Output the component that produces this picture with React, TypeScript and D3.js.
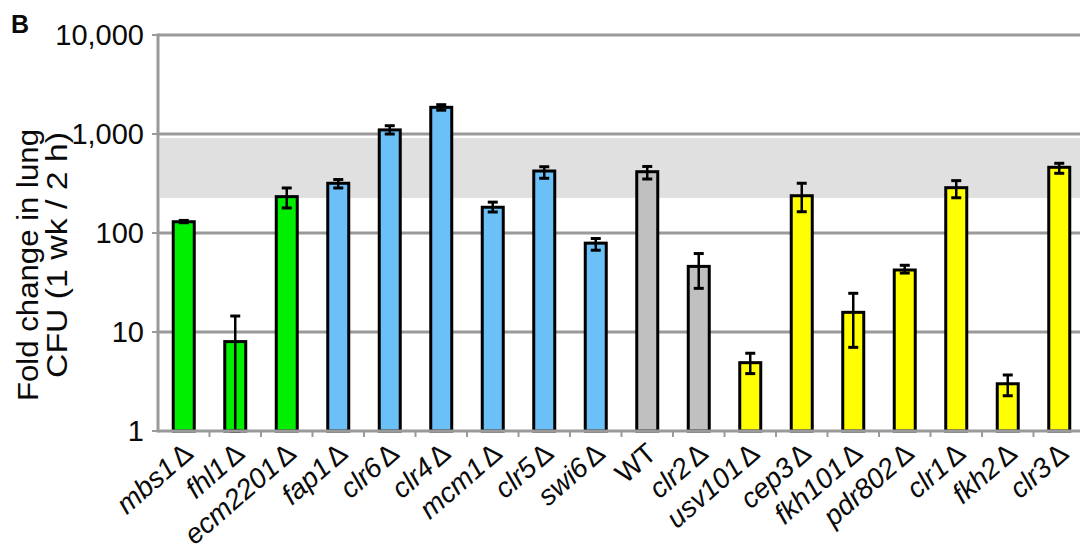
import React from "react";
import * as d3 from "d3";

const categories = ["mbs1", "fhl1", "ecm2201", "fap1", "clr6", "clr4", "mcm1", "clr5", "swi6", "WT", "clr2", "usv101", "cep3", "fkh101", "pdr802", "clr1", "fkh2", "clr3"];
const groups = ["green", "green", "green", "blue", "blue", "blue", "blue", "blue", "blue", "grey", "grey", "yellow", "yellow", "yellow", "yellow", "yellow", "yellow", "yellow"];
const values = [130, 8.0, 233, 318, 1100, 1860, 182, 423, 79, 416, 46, 4.9, 238, 15.8, 42.3, 287, 3.0, 461];
const errLow = [127, 1, 179, 285, 1000, 1740, 163, 357, 67, 351, 27.6, 3.8, 164, 7.0, 39.4, 227, 2.27, 401];
const errHigh = [134, 14.5, 285, 347, 1213, 1977, 205, 467, 88, 470, 62, 6.1, 318, 24.6, 47.2, 338, 3.68, 506];
const yTicks = [1, 10, 100, 1000, 10000];
const yTickLabels = ["1", "10", "100", "1,000", "10,000"];
const bandRange = [226, 910];

const colors: Record<string, string> = { green: "#00ee00", blue: "#6cc0f8", grey: "#c0c0c0", yellow: "#ffff00" };

export default function App() {
  const W = 1080, H = 546;
  const x0 = 158, x1 = 1085;
  const y = d3.scaleLog().domain([1, 10000]).range([431, 35]);
  const x = d3.scaleBand().domain(categories).range([x0, x1]).paddingInner(0).paddingOuter(0);
  const bw = 21;
  const font = "'Liberation Sans', Arial, sans-serif";
  const gridColor = "#9a9a9a";
  const textColor = "#0a0a0a";
  return (
    <svg width={W} height={H} style={{ position: "absolute", left: 0, top: 0 }} fontFamily={font}>
      <rect x={0} y={0} width={W} height={H} fill="#fff" />
      <rect x={x0 + 2} y={y(bandRange[1])} width={W - x0} height={y(bandRange[0]) - y(bandRange[1])} fill="#e0e0e0" />
      {yTicks.slice(1).map((t) => (
        <line key={t} x1={x0} x2={W} y1={y(t)} y2={y(t)} stroke={gridColor} strokeWidth={3} />
      ))}
      {yTicks.map((t, i) => (
        <g key={"yt" + t}>
          <line x1={x0 - 6} x2={x0} y1={y(t)} y2={y(t)} stroke={gridColor} strokeWidth={2} />
          <text x={x0 - 14} y={y(t)} dy="0.36em" textAnchor="end" fontSize={29} fill={textColor}>{yTickLabels[i]}</text>
        </g>
      ))}
      {categories.map((c, i) => {
        const cx = (x(c) as number) + x.bandwidth() / 2;
        return (
          <rect key={"b" + c} x={cx - bw / 2} y={y(values[i])} width={bw} height={y(1) - y(values[i])} fill={colors[groups[i]]} stroke="#000" strokeWidth={3} />
        );
      })}
      {categories.map((c, i) => {
        const cx = (x(c) as number) + x.bandwidth() / 2;
        return (
          <g key={"e" + c} stroke="#000" strokeWidth={2.5}>
            <line x1={cx} x2={cx} y1={y(errLow[i])} y2={y(errHigh[i])} />
            <line x1={cx - 5} x2={cx + 5} y1={y(errHigh[i])} y2={y(errHigh[i])} strokeWidth={3} />
            <line x1={cx - 5} x2={cx + 5} y1={y(errLow[i])} y2={y(errLow[i])} strokeWidth={3} />
          </g>
        );
      })}
      <line x1={x0} x2={x0} y1={y(10000) - 1.5} y2={y(1) + 1.5} stroke={gridColor} strokeWidth={3} />
      <line x1={x0} x2={W} y1={y(1)} y2={y(1)} stroke={gridColor} strokeWidth={3} />
      {categories.map((c) => {
        const xb = x(c) as number;
        return <line key={"xt" + c} x1={xb + x.bandwidth()} x2={xb + x.bandwidth()} y1={y(1)} y2={y(1) + 6} stroke={gridColor} strokeWidth={2} />;
      })}
      {categories.map((c) => {
        const cx = (x(c) as number) + x.bandwidth() / 2;
        const isWT = c === "WT";
        return (
          <text key={"xl" + c} transform={`translate(${cx + 11},${456}) rotate(-41)`} textAnchor="end" fontSize={28} fill={textColor}>
            {isWT ? "WT" : (
              <>
                <tspan fontStyle="italic">{c}</tspan>
                <tspan dx={3}>Δ</tspan>
              </>
            )}
          </text>
        );
      })}
      <text transform="translate(38,265) rotate(-90)" textAnchor="middle" fontSize={30} textLength={272} lengthAdjust="spacingAndGlyphs" fill={textColor}>Fold change in lung</text>
      <text transform="translate(67,255) rotate(-90)" textAnchor="middle" fontSize={30} textLength={246} lengthAdjust="spacingAndGlyphs" fill={textColor}>CFU (1 wk / 2 h)</text>
      <text x={11} y={33} fontSize={25} fontWeight="bold" fill={textColor}>B</text>
    </svg>
  );
}
